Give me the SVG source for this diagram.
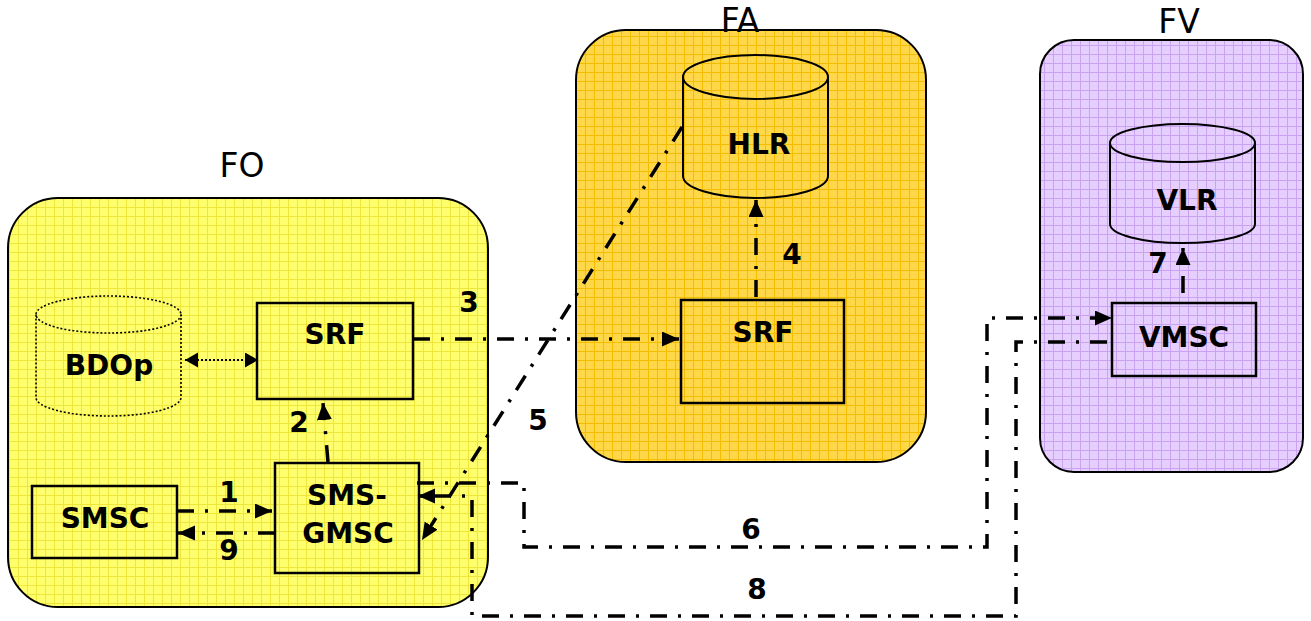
<svg xmlns="http://www.w3.org/2000/svg" width="1311" height="621" viewBox="0 0 1311 621">
<defs>
  <pattern id="gFO" width="9" height="9" patternUnits="userSpaceOnUse">
    <rect width="9" height="9" fill="#FFFF6E"/>
    <path d="M0 0.5H9M0.5 0V9" stroke="#EEE63A" stroke-width="1"/>
  </pattern>
  <pattern id="gFA" width="9" height="9" patternUnits="userSpaceOnUse">
    <rect width="9" height="9" fill="#FFD84A"/>
    <path d="M0 0.5H9M0.5 0V9" stroke="#F5BC00" stroke-width="1"/>
  </pattern>
  <pattern id="gFV" width="9" height="9" patternUnits="userSpaceOnUse">
    <rect width="9" height="9" fill="#E6CEFF"/>
    <path d="M0 0.5H9M0.5 0V9" stroke="#C9A2F2" stroke-width="1"/>
  </pattern>
  <marker id="ah" markerUnits="userSpaceOnUse" markerWidth="18" markerHeight="16" refX="17" refY="7.5" orient="auto">
    <path d="M0 0L17 7.5L0 15Z" fill="#000"/>
  </marker>
  <marker id="ahs" markerUnits="userSpaceOnUse" markerWidth="14" markerHeight="16" refX="13" refY="7.5" orient="auto-start-reverse">
    <path d="M0 0L13 7.5L0 15Z" fill="#000"/>
  </marker>
</defs>
<style>
  .region{stroke:#000;stroke-width:2}
  .box{fill:none;stroke:#000;stroke-width:2.5}
  .db{fill:none;stroke:#000;stroke-width:2}
  .dotdb{fill:none;stroke:#000;stroke-width:1.6;stroke-dasharray:2 2}
  .lbl{font-family:"DejaVu Sans",Verdana,sans-serif;font-weight:bold;font-size:28px;text-anchor:middle;fill:#000}
  .rlbl{font-family:"DejaVu Sans",Verdana,sans-serif;font-size:33px;text-anchor:middle;fill:#000}
  .conn{fill:none;stroke:#000;stroke-width:3.5;stroke-dasharray:17 11 3 11}
  .dotc{fill:none;stroke:#000;stroke-width:2;stroke-dasharray:2 2}
</style>

<g id="region-FO">
  <rect class="region" x="8" y="198" width="480" height="409" rx="50" fill="url(#gFO)"/>
  <text class="rlbl" x="242" y="177">FO</text>
</g>
<g id="region-FA">
  <rect class="region" x="576" y="30" width="350" height="432" rx="50" fill="url(#gFA)"/>
  <text class="rlbl" x="740" y="32">FA</text>
</g>
<g id="region-FV">
  <rect class="region" x="1040" y="40" width="263" height="432" rx="34" fill="url(#gFV)"/>
  <text class="rlbl" x="1179" y="33">FV</text>
</g>

<g id="node-BDOp">
  <ellipse class="dotdb" cx="108.5" cy="314.5" rx="72.5" ry="18.5"/>
  <path class="dotdb" d="M36 314.5V397.5A72.5 18.5 0 0 0 181 397.5V314.5"/>
  <text class="lbl" x="109" y="375">BDOp</text>
</g>
<g id="node-SRF-FO">
  <rect class="box" x="257" y="303" width="156" height="96"/>
  <text class="lbl" x="335" y="344">SRF</text>
</g>
<g id="node-SMSC">
  <rect class="box" x="32" y="486" width="145" height="72"/>
  <text class="lbl" x="105" y="528">SMSC</text>
</g>
<g id="node-SMS-GMSC">
  <rect class="box" x="275" y="463" width="144" height="110"/>
  <text class="lbl" x="347" y="505">SMS-</text>
  <text class="lbl" x="348" y="543">GMSC</text>
</g>
<g id="node-HLR">
  <ellipse class="db" cx="755.5" cy="77" rx="72.5" ry="22"/>
  <path class="db" d="M683 77V176A72.5 22 0 0 0 828 176V77"/>
  <text class="lbl" x="759" y="154">HLR</text>
</g>
<g id="node-SRF-FA">
  <rect class="box" x="681" y="300" width="163" height="103"/>
  <text class="lbl" x="763" y="342">SRF</text>
</g>
<g id="node-VLR">
  <ellipse class="db" cx="1182.5" cy="143" rx="72.5" ry="19"/>
  <path class="db" d="M1110 143V224A72.5 19 0 0 0 1255 224V143"/>
  <text class="lbl" x="1187" y="210">VLR</text>
</g>
<g id="node-VMSC">
  <rect class="box" x="1112" y="303" width="144" height="73"/>
  <text class="lbl" x="1184" y="347">VMSC</text>
</g>

<g id="connectors">
  <path class="dotc" d="M185 360H258" marker-start="url(#ahs)" marker-end="url(#ahs)"/>
  <path class="conn" d="M177 511H272" marker-end="url(#ah)"/>
  <path class="conn" d="M275 533H178" marker-end="url(#ah)"/>
  <path class="conn" d="M328 462L323 403" marker-end="url(#ah)"/>
  <path class="conn" d="M413 339H679" marker-end="url(#ah)"/>
  <path class="conn" d="M756 297V200" marker-end="url(#ah)"/>
  <path class="conn" d="M682 127L422 540" marker-end="url(#ah)"/>
  <path class="conn" d="M417 483H524V547H987V318H1112" marker-end="url(#ah)"/>
  <path class="conn" d="M1183 293V248" marker-end="url(#ah)"/>
  <path class="conn" d="M1107 342H1016V616H472V496H418" marker-end="url(#ah)"/>
  <text class="lbl" x="229" y="502">1</text>
  <text class="lbl" x="299" y="432">2</text>
  <text class="lbl" x="469" y="312">3</text>
  <text class="lbl" x="792" y="264">4</text>
  <text class="lbl" x="538" y="430">5</text>
  <text class="lbl" x="751" y="539">6</text>
  <text class="lbl" x="1158" y="273">7</text>
  <text class="lbl" x="757" y="599">8</text>
  <text class="lbl" x="229" y="560">9</text>
</g>
</svg>
